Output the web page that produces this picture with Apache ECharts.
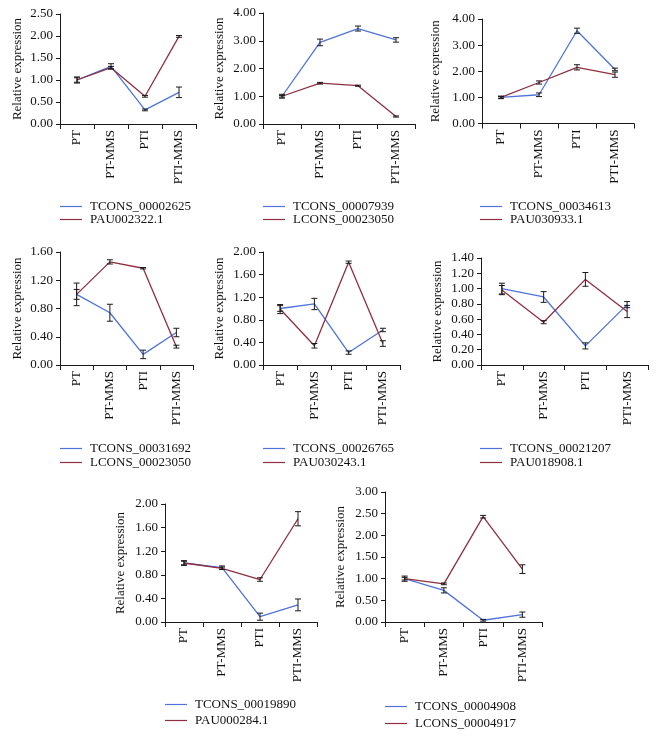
<!DOCTYPE html>
<html><head><meta charset="utf-8">
<script src="https://cdn.jsdelivr.net/npm/echarts@6/dist/echarts.min.js"></script>
<style>html,body{margin:0;padding:0;background:#fff}#c{width:656px;height:737px}</style>
</head><body><div id="c"></div><script>
// ---------- DATA ----------
const categories = ['PT', 'PT-MMS', 'PTI', 'PTI-MMS'];
const yName = 'Relative expression';

const p1Names = ['TCONS_00002625', 'PAU002322.1'];
const p1Blue = [1.00, 1.31, 0.32, 0.72];
const p1BlueErr = [0.07, 0.06, 0.02, 0.12];
const p1Red = [1.00, 1.28, 0.63, 1.99];
const p1RedErr = [0.05, 0.03, 0.02, 0.02];
const p1Axis = [0, 2.5, 0.5];

const p2Names = ['TCONS_00007939', 'LCONS_00023050'];
const p2Blue = [1.00, 2.94, 3.44, 3.03];
const p2BlueErr = [0.07, 0.12, 0.09, 0.08];
const p2Red = [1.00, 1.47, 1.38, 0.27];
const p2RedErr = [0.03, 0.03, 0.02, 0.02];
const p2Axis = [0, 4, 1];

const p3Names = ['TCONS_00034613', 'PAU030933.1'];
const p3Blue = [1.00, 1.10, 3.55, 2.07];
const p3BlueErr = [0.05, 0.07, 0.10, 0.05];
const p3Red = [1.00, 1.57, 2.15, 1.87];
const p3RedErr = [0.03, 0.06, 0.10, 0.10];
const p3Axis = [0, 4, 1];

const p4Names = ['TCONS_00031692', 'LCONS_00023050'];
const p4Blue = [1.00, 0.74, 0.15, 0.46];
const p4BlueErr = [0.07, 0.12, 0.06, 0.06];
const p4Red = [1.00, 1.46, 1.37, 0.26];
const p4RedErr = [0.16, 0.03, 0.01, 0.02];
const p4Axis = [0, 1.6, 0.4];

const p5Names = ['TCONS_00026765', 'PAU030243.1'];
const p5Blue = [1.00, 1.08, 0.22, 0.62];
const p5BlueErr = [0.05, 0.10, 0.03, 0.03];
const p5Red = [0.99, 0.34, 1.82, 0.38];
const p5RedErr = [0.08, 0.04, 0.02, 0.05];
const p5Axis = [0, 2.0, 0.4];

const p6Names = ['TCONS_00021207', 'PAU018908.1'];
const p6Blue = [1.00, 0.89, 0.25, 0.79];
const p6BlueErr = [0.07, 0.07, 0.04, 0.04];
const p6Red = [0.98, 0.56, 1.12, 0.70];
const p6RedErr = [0.06, 0.02, 0.09, 0.08];
const p6Axis = [0, 1.4, 0.2];

const p7Names = ['TCONS_00019890', 'PAU000284.1'];
const p7Blue = [1.00, 0.92, 0.09, 0.29];
const p7BlueErr = [0.04, 0.03, 0.06, 0.10];
const p7Red = [1.00, 0.91, 0.72, 1.75];
const p7RedErr = [0.03, 0.02, 0.03, 0.12];
const p7Axis = [0, 2.0, 0.4];

const p8Names = ['TCONS_00004908', 'LCONS_00004917'];
const p8Blue = [1.00, 0.73, 0.04, 0.17];
const p8BlueErr = [0.06, 0.06, 0.02, 0.06];
const p8Red = [1.00, 0.88, 2.43, 1.22];
const p8RedErr = [0.03, 0.02, 0.03, 0.10];
const p8Axis = [0, 3.0, 0.5];

// ---------- LAYOUT / STYLE ----------
const BLUE = '#4f74d9', RED = '#8e2f43', INK = '#1a1a1a';
const FONT = 'Liberation Serif';
const panels = [
  {names:p1Names, blue:p1Blue, be:p1BlueErr, red:p1Red, re:p1RedErr, ax:p1Axis, g:[60,14,136,110], gap:36, lg:[60,207,220]},
  {names:p2Names, blue:p2Blue, be:p2BlueErr, red:p2Red, re:p2RedErr, ax:p2Axis, g:[263,13,152,111], gap:37, lg:[263,207,220]},
  {names:p3Names, blue:p3Blue, be:p3BlueErr, red:p3Red, re:p3RedErr, ax:p3Axis, g:[482,19,152,104.5], gap:40, lg:[480,207,220]},
  {names:p4Names, blue:p4Blue, be:p4BlueErr, red:p4Red, re:p4RedErr, ax:p4Axis, g:[60,252,133,113], gap:36, lg:[60,449,463]},
  {names:p5Names, blue:p5Blue, be:p5BlueErr, red:p5Red, re:p5RedErr, ax:p5Axis, g:[263,252,137,113], gap:37, lg:[263,449,463]},
  {names:p6Names, blue:p6Blue, be:p6BlueErr, red:p6Red, re:p6RedErr, ax:p6Axis, g:[481,258,167,107], gap:37, lg:[480,449,463]},
  {names:p7Names, blue:p7Blue, be:p7BlueErr, red:p7Red, re:p7RedErr, ax:p7Axis, g:[165,504,152,118], gap:38, lg:[165,705,721]},
  {names:p8Names, blue:p8Blue, be:p8BlueErr, red:p8Red, re:p8RedErr, ax:p8Axis, g:[385,492,157,130], gap:38, lg:[385,707,724]}
];

function errItem(params, api) {
  const x = api.value(0), v = api.value(1), e = api.value(2);
  const t = api.coord([x, v + e]), b = api.coord([x, v - e]);
  const w = 3, st = {stroke: INK, lineWidth: 1};
  return {type: 'group', children: [
    {type: 'line', shape: {x1: t[0], y1: t[1], x2: b[0], y2: b[1]}, style: st},
    {type: 'line', shape: {x1: t[0] - w, y1: t[1], x2: t[0] + w, y2: t[1]}, style: st},
    {type: 'line', shape: {x1: b[0] - w, y1: b[1], x2: b[0] + w, y2: b[1]}, style: st}
  ]};
}

const grid = [], xAxis = [], yAxis = [], series = [], legend = [];
panels.forEach((p, i) => {
  grid.push({left: p.g[0], top: p.g[1], width: p.g[2], height: p.g[3], containLabel: false});
  xAxis.push({type: 'category', gridIndex: i, data: categories, boundaryGap: true,
    axisLine: {lineStyle: {color: INK, width: 1}},
    axisTick: {show: true, length: 5, lineStyle: {color: INK}},
    axisLabel: {rotate: 90, interval: 0, margin: 6, color: '#111', fontFamily: FONT, fontSize: 13},
    splitLine: {show: false}});
  yAxis.push({type: 'value', gridIndex: i, min: p.ax[0], max: p.ax[1], interval: p.ax[2],
    name: yName, nameLocation: 'middle', nameRotate: 90, nameGap: p.gap,
    nameTextStyle: {color: '#111', fontFamily: FONT, fontSize: 13},
    axisLine: {show: true, lineStyle: {color: INK, width: 1}},
    axisTick: {show: true, length: 4, lineStyle: {color: INK}},
    axisLabel: {margin: 7, color: '#111', fontFamily: FONT, fontSize: 13, formatter: v => v.toFixed(2)},
    splitLine: {show: false}});
  [[p.names[0], p.blue, p.be, BLUE], [p.names[1], p.red, p.re, RED]].forEach(([nm, vals, errs, col]) => {
    series.push({type: 'line', name: nm, xAxisIndex: i, yAxisIndex: i, data: vals,
      symbol: 'none', color: col, lineStyle: {color: col, width: 1.3}, animation: false,
      emphasis: {disabled: true}, z: 2});
    series.push({type: 'custom', xAxisIndex: i, yAxisIndex: i, renderItem: errItem,
      data: vals.map((v, k) => [k, v, errs[k]]), animation: false, z: 3, silent: true,
      encode: {x: 0, y: 1}});
  });
  [0, 1].forEach(k => {
    legend.push({left: p.lg[0], top: p.lg[1 + k] - 7, padding: 0, orient: 'vertical',
      data: [{name: p.names[k], icon: 'rect'}], itemWidth: 22, itemHeight: 1.2,
      selectedMode: false,
      textStyle: {color: '#111', fontFamily: FONT, fontSize: 13, padding: [0, 0, 0, 3]}});
  });
});

const chart = echarts.init(document.getElementById('c'), null, {renderer: 'canvas'});
chart.setOption({backgroundColor: '#fff', animation: false, grid, xAxis, yAxis, series, legend});
</script></body></html>
